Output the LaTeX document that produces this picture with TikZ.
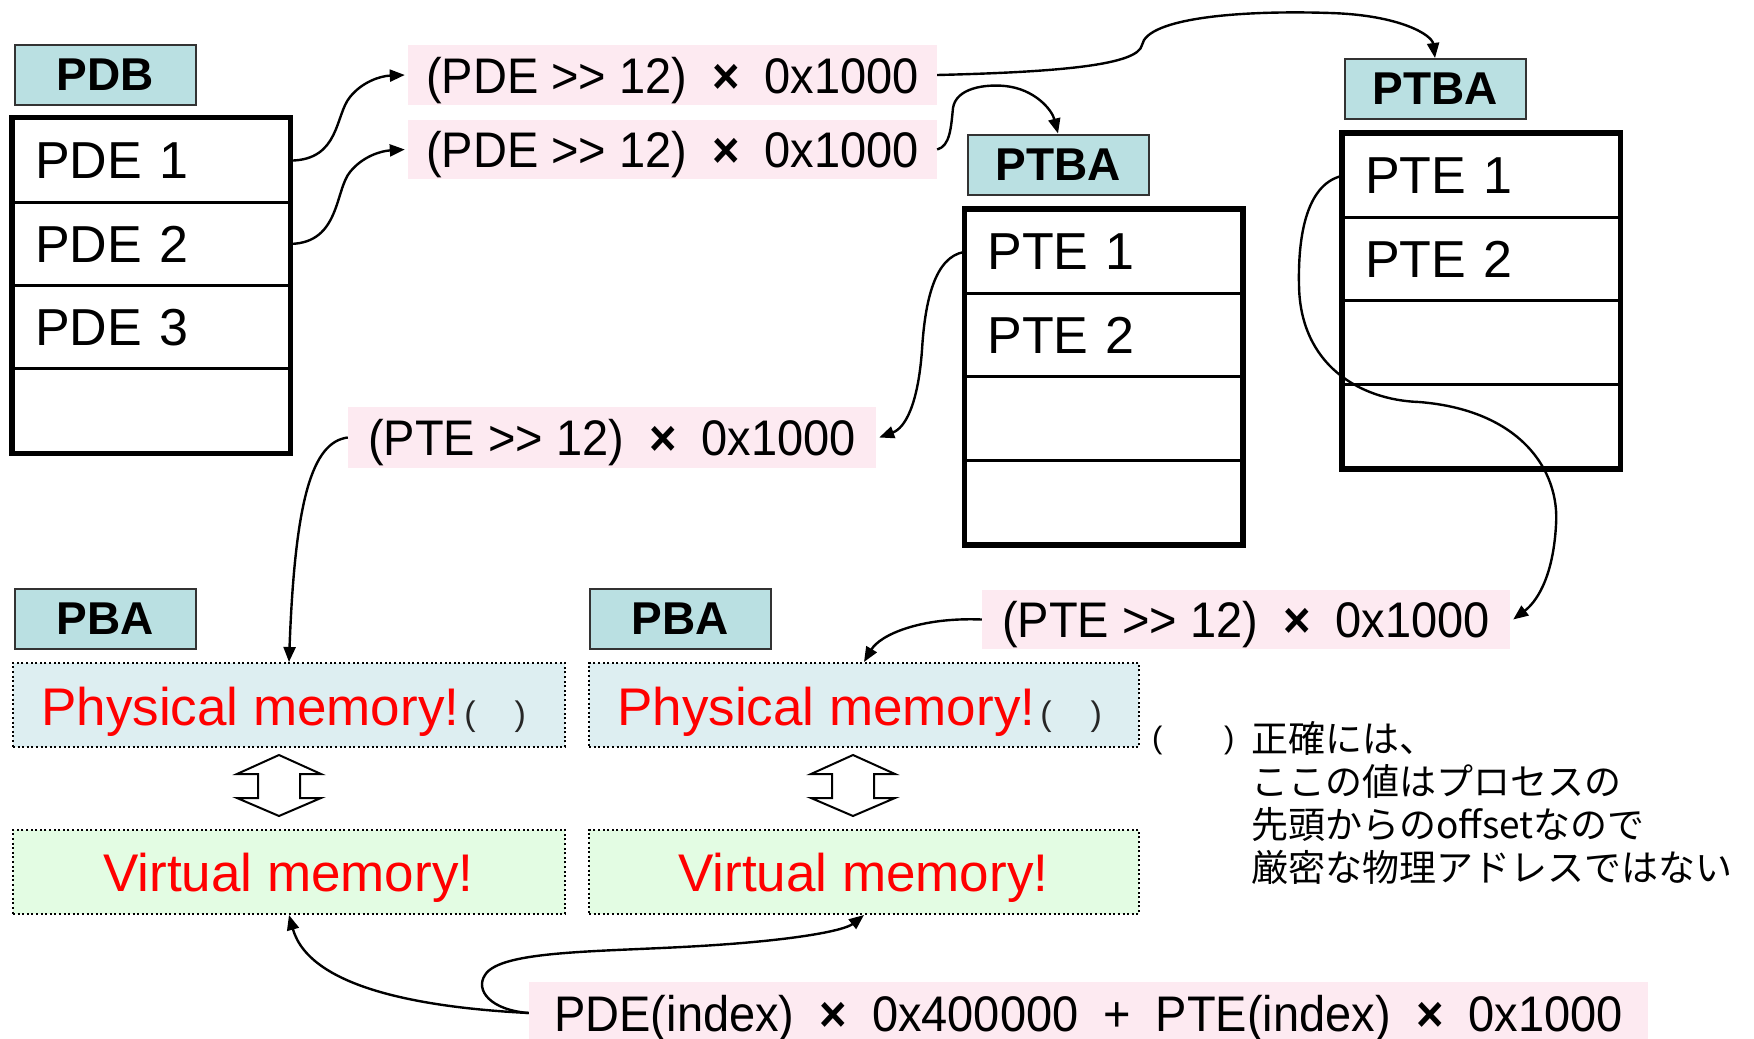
\documentclass[tikz,border=0pt]{standalone}
\usepackage{fontspec}
\setmainfont{Liberation Sans}
\newfontfamily\cjk{Noto Sans CJK JP}
\newfontfamily\formfont{Liberation Sans}[FakeStretch=0.94]
\usetikzlibrary{arrows.meta}
\definecolor{lblc}{RGB}{186,224,226}
\definecolor{pinkc}{RGB}{253,234,241}
\definecolor{physc}{RGB}{221,238,241}
\definecolor{virtc}{RGB}{227,252,227}
\tikzset{
  lblbox/.style={draw=black!80, line width=2pt, fill=lblc, minimum width=181pt, minimum height=60pt, inner sep=0pt,
    font=\fontsize{46}{50}\selectfont\bfseries},
  cell/.style={draw, line width=3pt, minimum height=83.3pt, text width=232pt, inner xsep=22pt, inner ysep=0pt, align=left,
    font=\fontsize{52}{56}\selectfont},
  outer/.style={line width=5pt},
  pinkbox/.style={fill=pinkc, inner sep=0pt, text depth=0pt, font=\fontsize{50}{54}\selectfont\formfont},
  membox/.style={draw, line width=2pt, dash pattern=on 2pt off 2.6pt, inner sep=0pt},
  memtext/.style={text=red, inner sep=0pt, font=\fontsize{53}{56}\selectfont},
  conn/.style={line width=2.4pt, -{Triangle[length=15pt,width=12pt]}},
  dblarrow/.style={line width=2pt, fill=white, line join=miter},
  notetext/.style={inner sep=0pt, anchor=base west, font=\fontsize{37}{42}\selectfont\cjk},
}
\newcommand{\gtgt}{>\kern0pt>}
\newcommand{\tms}{\hspace{0.5em}\textbf{×}\hspace{0.5em}}
\begin{document}
\begin{tikzpicture}[x=1pt,y=-1pt]
\useasboundingbox (0,0) rectangle (1754,1039);

% ---- PDB ----
\node[lblbox] (pdb) at (105,74.5) {PDB};
\node[cell] (pde1) at (151,160.6) {PDE 1};
\node[cell] (pde2) at (151,243.9) {PDE 2};
\node[cell] (pde3) at (151,327.1) {PDE 3};
\node[cell] (pde4) at (151,410.4) {};
\draw[outer] (pde1.north west) rectangle (pde4.south east);

% ---- PTBA middle ----
\node[lblbox] (ptbaM) at (1058,164.5) {PTBA};
\node[cell] (ptm1) at (1103.5,252) {PTE 1};
\node[cell] (ptm2) at (1103.5,335.3) {PTE 2};
\node[cell] (ptm3) at (1103.5,418.6) {};
\node[cell] (ptm4) at (1103.5,501.9) {};
\draw[outer] (ptm1.north west) rectangle (ptm4.south east);

% ---- PTBA right ----
\node[lblbox] (ptbaR) at (1435,89) {PTBA};
\node[cell] (ptr1) at (1481,176) {PTE 1};
\node[cell] (ptr2) at (1481,259.3) {PTE 2};
\node[cell] (ptr3) at (1481,342.6) {};
\node[cell] (ptr4) at (1481,425.9) {};
\draw[outer] (ptr1.north west) rectangle (ptr4.south east);

% ---- pink formula boxes ----
\node[pinkbox, minimum width=529pt, minimum height=60pt] (pink1) at (672.5,75) {(PDE \gtgt{} 12)\tms 0x1000};
\node[pinkbox, minimum width=529pt, minimum height=59pt] (pink2) at (672.5,149.5) {(PDE \gtgt{} 12)\tms 0x1000};
\node[pinkbox, minimum width=528pt, minimum height=61pt] (pinkP1) at (612,437.5) {(PTE \gtgt{} 12)\tms 0x1000};
\node[pinkbox, minimum width=528pt, minimum height=59pt] (pinkP2) at (1246,619.5) {(PTE \gtgt{} 12)\tms 0x1000};
\node[pinkbox, minimum width=1119pt, minimum height=62pt] (bottom) at (1088.5,1013) {PDE(index)\tms 0x400000\hspace{0.5em}+\hspace{0.5em}PTE(index)\tms 0x1000};

% ---- PBA / memory ----
\node[lblbox] (pba1) at (105,618.5) {PBA};
\node[lblbox] (pba2) at (680,618.5) {PBA};
\node[membox, fill=physc, minimum width=552pt, minimum height=84pt] (phys1) at (289,705) {};
\node[membox, fill=physc, minimum width=550pt, minimum height=84pt] (phys2) at (864,705) {};
\node[membox, fill=virtc, minimum width=552pt, minimum height=84pt] (virt1) at (289,872) {};
\node[membox, fill=virtc, minimum width=550pt, minimum height=84pt] (virt2) at (864,872) {};
\node[memtext, anchor=base west] (phys1t) at (41,725) {Physical memory!\hspace{5pt}{\color{black!85}\fontsize{34}{36}\selectfont(\hspace{39pt})}};
\node[memtext, anchor=base west] (phys2t) at (617,725) {Physical memory!\hspace{5pt}{\color{black!85}\fontsize{34}{36}\selectfont(\hspace{39pt})}};
\node[memtext, anchor=base west] (virt1t) at (103,891) {Virtual memory!};
\node[memtext, anchor=base west] (virt2t) at (678,891) {Virtual memory!};

% ---- double block arrows ----
\draw[dblarrow] (279,755) -- (321,774) -- (300,774) -- (300,798) -- (321,798) -- (279,816)
  -- (237,798) -- (258,798) -- (258,774) -- (237,774) -- cycle;
\draw[dblarrow] (853,755) -- (895,774) -- (874,774) -- (874,798) -- (895,798) -- (853,816)
  -- (811,798) -- (832,798) -- (832,774) -- (811,774) -- cycle;

% ---- note ----
\node[inner sep=0pt, anchor=base west, font=\fontsize{31}{34}\selectfont] (noteL) at (1152,748) {(};
\node[inner sep=0pt, anchor=base west, font=\fontsize{31}{34}\selectfont] (noteR) at (1224,748) {)};
\node[notetext] (note1) at (1251,752) {正確には、};
\node[notetext] (note2) at (1251,795) {ここの値はプロセスの};
\node[notetext] (note3) at (1251,838) {先頭からのoffsetなので};
\node[notetext] (note4) at (1251,881) {厳密な物理アドレスではない};

% ---- connectors ----
\draw[conn] (pde1.east) .. controls (340,160) and (335,115) .. (350,97) .. controls (362,82) and (380,76) .. ([xshift=-3pt]pink1.west);
\draw[conn] (pde2.east) .. controls (340,243) and (335,190) .. (350,172) .. controls (362,157) and (380,151) .. ([xshift=-3pt]pink2.west);
\draw[conn] (pink1.east) .. controls (1060,72) and (1138,65) .. (1142,45)
  .. controls (1147,18) and (1240,10) .. (1330,13) .. controls (1400,15) and (1432,35) .. (ptbaR.north);
\draw[conn] (pink2.east) .. controls (950,146) and (951,128) .. (953,108)
  .. controls (956,88) and (985,84) .. (1005,86) .. controls (1035,89) and (1052,110) .. (ptbaM.north);
\draw[conn] (ptm1.west) .. controls (935,257) and (925,300) .. (922,350)
  .. controls (918,405) and (905,428) .. ([xshift=3pt]pinkP1.east);
\draw[conn] (pinkP1.west) .. controls (312,442) and (295,500) .. (phys1.north);
\draw[conn] (ptr1.west) .. controls (1305,185) and (1298,240) .. (1299,285)
  .. controls (1300,365) and (1360,400) .. (1419,402)
  .. controls (1520,410) and (1560,470) .. (1556,525)
  .. controls (1553,580) and (1535,603) .. ([xshift=3pt]pinkP2.east);
\draw[conn] (pinkP2.west) .. controls (920,617) and (880,635) .. (phys2.north);
\draw[conn] (bottom.west) .. controls (430,1008) and (310,990) .. (virt1.south);
\draw[conn] (bottom.west) .. controls (490,1010) and (475,990) .. (485,975)
  .. controls (500,950) and (600,952) .. (700,946) .. controls (800,940) and (845,930) .. (virt2.south);
\end{tikzpicture}
\end{document}
